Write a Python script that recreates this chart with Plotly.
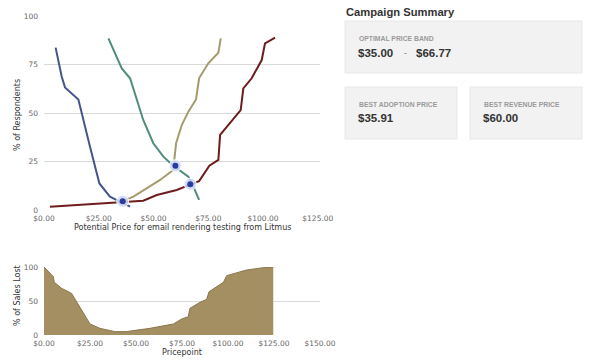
import plotly.graph_objects as go

# ---- data: price sensitivity curves (% of respondents) ----
too_cheap_x = [5.3, 8.1, 9.6, 15.7, 21.0, 25.3, 30.1, 34.7, 39.3]
too_cheap_y = [83.7, 68.7, 63.2, 57.0, 32.6, 13.7, 6.9, 4.3, 1.7]

bargain_x = [29.4, 32.4, 35.5, 39.3, 42.3, 45.3, 49.9, 54.5, 59.0, 62.9, 65.9, 68.2, 70.8]
bargain_y = [88.5, 80.8, 73.0, 67.9, 56.7, 46.4, 34.4, 27.5, 22.8, 19.7, 17.2, 12.0, 5.2]

expensive_x = [33.5, 36.0, 40.8, 46.9, 53.0, 59.0, 60.3, 62.9, 65.9, 69.4, 70.8, 75.0, 79.6, 80.7]
expensive_y = [4.0, 4.6, 6.9, 11.2, 15.5, 20.6, 34.4, 43.8, 50.7, 57.0, 67.9, 75.6, 81.1, 88.5]

too_exp_x = [2.7, 34.7, 45.3, 51.5, 60.6, 67.0, 70.8, 75.5, 79.6, 80.4, 83.4, 89.8, 91.0, 94.8, 99.4, 100.9, 105.5]
too_exp_y = [1.7, 4.3, 4.8, 7.7, 10.3, 13.2, 14.9, 22.8, 25.8, 38.7, 42.9, 51.5, 62.7, 67.9, 77.3, 85.9, 88.8]

key_x = [35.91, 60.00, 66.77]
key_y = [4.5, 22.8, 13.3]

main_ticks = [0, 25, 50, 75, 100, 125]
main_ticktext = ["$0.00", "$25.00", "$50.00", "$75.00", "$100.00", "$125.00"]

# ---- data: % of sales lost ----
lost_x = [0, 5.1, 5.6, 9.6, 15.0, 25.0, 30.4, 38.6, 44.7, 57.6, 70.3, 74.8, 78.4, 79.3,
          84.8, 88.4, 89.7, 97.5, 99.3, 103.8, 110.1, 119.2, 124.6]
lost_y = [100, 85.8, 77.5, 68.6, 61.2, 16.2, 9.8, 4.9, 5.0, 9.8, 16.2, 23.5, 26.9, 39.2,
          48.0, 52.5, 63.7, 77.5, 87.3, 90.7, 95.6, 99.0, 99.6]
lost_ticks = [0, 25, 50, 75, 100, 125, 150]
lost_ticktext = ["$0.00", "$25.00", "$50.00", "$75.00", "$100.00", "$125.00", "$150.00"]

summary_title = "Campaign Summary"
band_label = "OPTIMAL PRICE BAND"
band_low, band_high = "$35.00", "$66.77"
adoption_label, adoption_value = "BEST ADOPTION PRICE", "$35.91"
revenue_label, revenue_value = "BEST REVENUE PRICE", "$60.00"

W, H = 600, 364
def px(x): return x / W
def py(y): return 1 - y / H

FONT = "DejaVu Sans"
TICKC = "#666666"
TITLEC = "#333333"
GRID = "#d9d9d9"

fig = go.Figure()
fig.add_trace(go.Scatter(x=too_exp_x, y=too_exp_y, mode="lines",
                         line=dict(color="#6e1c1c", width=2), xaxis="x", yaxis="y"))
fig.add_trace(go.Scatter(x=expensive_x, y=expensive_y, mode="lines",
                         line=dict(color="#a59a6a", width=2), xaxis="x", yaxis="y"))
fig.add_trace(go.Scatter(x=bargain_x, y=bargain_y, mode="lines",
                         line=dict(color="#4f8c7e", width=2), xaxis="x", yaxis="y"))
fig.add_trace(go.Scatter(x=too_cheap_x, y=too_cheap_y, mode="lines",
                         line=dict(color="#45558c", width=2), xaxis="x", yaxis="y"))
fig.add_trace(go.Scatter(x=key_x, y=key_y, mode="markers",
                         marker=dict(size=12, color="rgba(205,215,245,0.85)",
                                     line=dict(color="rgba(255,255,255,0.9)", width=1)),
                         xaxis="x", yaxis="y"))
fig.add_trace(go.Scatter(x=key_x, y=key_y, mode="markers",
                         marker=dict(size=6, color="#2a3c9e"), xaxis="x", yaxis="y"))

fig.add_trace(go.Scatter(x=lost_x, y=lost_y, mode="lines", fill="tozeroy",
                         fillcolor="#a38f62", line=dict(color="#8a774c", width=1),
                         xaxis="x2", yaxis="y2"))

xcommon = dict(showgrid=False, zeroline=False, showline=False, ticks="", automargin=False,
               ticklabelstandoff=2,
               tickfont=dict(family=FONT, size=7.5, color=TICKC))
ycommon = dict(showgrid=True, gridcolor=GRID, gridwidth=1, zeroline=False, showline=False,
               ticks="", automargin=False, ticklabelstandoff=5,
               tickfont=dict(family=FONT, size=7.5, color=TICKC))
fig.update_layout(
    width=W, height=H, margin=dict(l=0, r=0, t=0, b=0, autoexpand=False),
    paper_bgcolor="white", plot_bgcolor="white", showlegend=False,
    xaxis=dict(domain=[px(44), px(320)], range=[0, 126], anchor="y",
               tickvals=main_ticks, ticktext=main_ticktext, **xcommon),
    yaxis=dict(domain=[py(210), py(16)], range=[0, 100], anchor="x",
               tickvals=[0, 25, 50, 75, 100], **ycommon),
    xaxis2=dict(domain=[px(44), px(320)], range=[0, 150], anchor="y2",
                tickvals=lost_ticks, ticktext=lost_ticktext, **xcommon),
    yaxis2=dict(domain=[py(335), py(267)], range=[0, 100], anchor="x2",
                tickvals=[0, 50, 100], **ycommon),
)

def ann(text, x, y, size, color, bold=True, family="Liberation Sans",
        xanchor="left", angle=0):
    fig.add_annotation(text=f"<b>{text}</b>" if bold else text, xref="paper", yref="paper",
                       x=px(x), y=py(y), xanchor=xanchor, yanchor="middle", showarrow=False,
                       textangle=angle, font=dict(family=family, size=size, color=color))

# axis titles
ann("Potential Price for email rendering testing from Litmus", 182, 227, 8, TITLEC,
    bold=False, family=FONT, xanchor="center")
ann("% of Respondents", 17, 115, 8, TITLEC, bold=False, family=FONT, xanchor="center", angle=-90)
ann("Pricepoint", 182, 352, 8, TITLEC, bold=False, family=FONT, xanchor="center")
ann("% of Sales Lost", 17, 296, 8, TITLEC, bold=False, family=FONT, xanchor="center", angle=-90)

BOX_FILL = "#f2f2f2"
BOX_LINE = "#e8e8e8"
for (x0, y0, x1, y1) in [(345, 21, 582, 73), (345, 87, 457, 139), (470, 87, 582, 139)]:
    fig.add_shape(type="rect", xref="paper", yref="paper",
                  x0=px(x0), x1=px(x1), y0=py(y1), y1=py(y0),
                  fillcolor=BOX_FILL, line=dict(color=BOX_LINE, width=1), layer="below")

ann(summary_title, 344, 12, 11.2, "#333333")
ann(band_label, 357, 39, 6.8, "#9a9a9a")
ann(band_low, 356, 53, 11.5, "#333333")
ann("-", 402, 53, 9, "#777777", bold=False)
ann(band_high, 414, 53, 11.5, "#333333")
ann(adoption_label, 357, 105, 6.8, "#9a9a9a")
ann(adoption_value, 356, 118, 11.5, "#333333")
ann(revenue_label, 482, 105, 6.8, "#9a9a9a")
ann(revenue_value, 481, 118, 11.5, "#333333")

fig.write_html("out.html", config={"displayModeBar": False},
               post_script="document.body.style.margin='0';")
